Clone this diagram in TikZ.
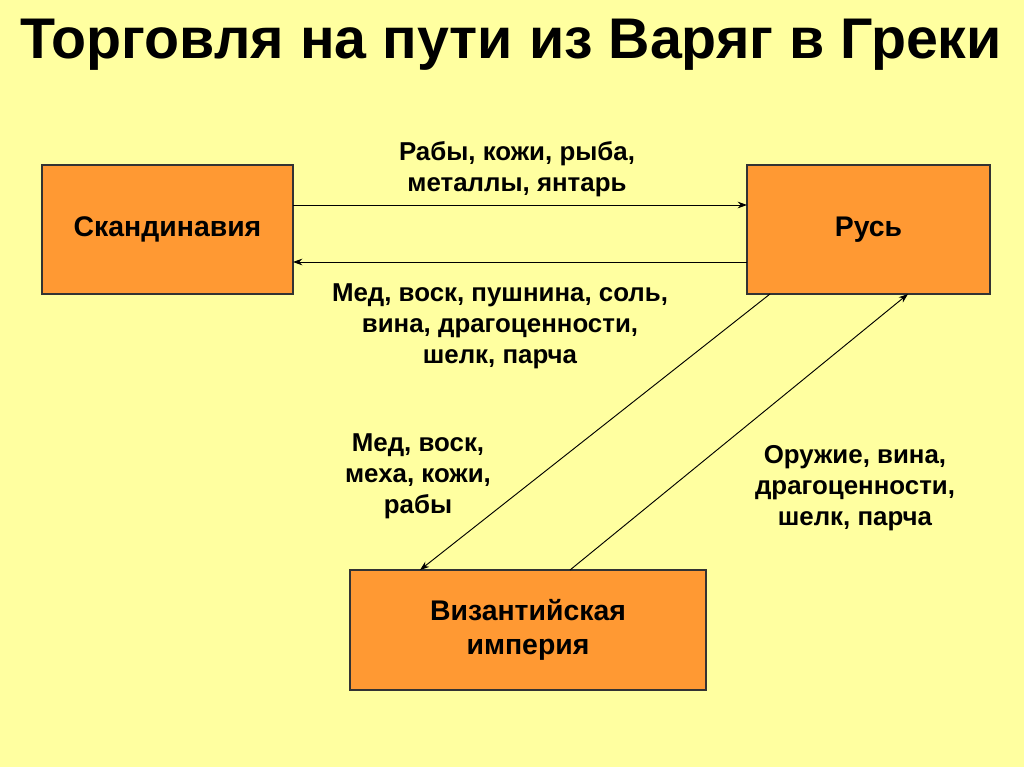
\documentclass[tikz,border=0pt]{standalone}
\usepackage{fontspec}
\setmainfont{Liberation Sans}
\usetikzlibrary{arrows.meta}
\definecolor{bg}{RGB}{255,255,160}
\definecolor{box}{RGB}{255,153,51}
\begin{document}
\begin{tikzpicture}[x=0.75pt,y=-0.75pt,
  boxn/.style={draw=black!80,fill=box,line width=0.8pt,font=\bfseries\fontsize{21.3}{25.5}\selectfont,align=center},
  lab/.style={font=\bfseries\fontsize{19.4}{23.2}\selectfont,align=center},
  arr/.style={-{Stealth[length=7pt,width=5pt]},line width=0.7pt}]
\fill[bg] (0,0) rectangle (1024,767);
\useasboundingbox (0,0) rectangle (1024,767);
\node[font=\bfseries\fontsize{43}{48}\selectfont] (t) at (511,45) {Торговля на пути из Варяг в Греки};
\node[boxn,minimum width=251*0.75pt,minimum height=129*0.75pt] (s) at (167.5,229.5) {Скандинавия};
\node[boxn,minimum width=243*0.75pt,minimum height=129*0.75pt] (r) at (868.5,229.5) {Русь};
\node[boxn,minimum width=356*0.75pt,minimum height=120*0.75pt] (b) at (528,630) {Византийская\\империя};
\coordinate (s1) at (293,205); \coordinate (r1) at (747,205);
\coordinate (s2) at (293,262); \coordinate (r2) at (747,262);
\draw[arr] (s1) -- (r1);
\draw[arr] (r2) -- (s2);
\coordinate (ra) at (770,294); \coordinate (ba) at (420,570);
\coordinate (bb) at (570,570); \coordinate (rb) at (908,294);
\draw[arr] (ra) -- (ba);
\draw[arr] (bb) -- (rb);
\node[lab] (l1) at (517,169) {Рабы, кожи, рыба,\\металлы, янтарь};
\node[lab] (l2) at (500,326) {Мед, воск, пушнина, соль,\\вина, драгоценности,\\шелк, парча};
\node[lab] (l3) at (418,476) {Мед, воск,\\меха, кожи,\\рабы};
\node[lab] (l4) at (855,488) {Оружие, вина,\\драгоценности,\\шелк, парча};
\end{tikzpicture}
\end{document}
